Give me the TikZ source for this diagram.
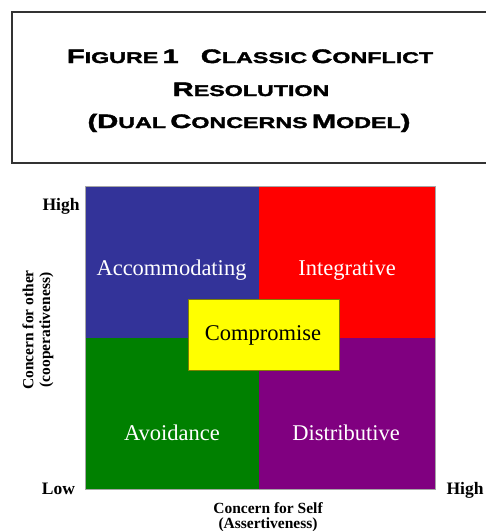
\documentclass[tikz,border=0pt]{standalone}
\usepackage{fontspec}
\setmainfont{Liberation Serif}
\newfontfamily\titlefont[FakeStretch=1.5,FakeBold=2]{Liberation Sans}
\newcommand\tsc[2]{{\fontsize{19.5}{20}\selectfont #1}{\fontsize{15.5}{16}\selectfont #2}}
\definecolor{qblue}{RGB}{51,51,153}
\definecolor{qred}{RGB}{255,0,0}
\definecolor{qgreen}{RGB}{0,128,0}
\definecolor{qpurple}{RGB}{128,0,128}
\definecolor{qyellow}{RGB}{255,255,0}
\definecolor{qolive}{RGB}{128,128,0}
\tikzset{
  titleline/.style={inner sep=0pt, anchor=base, font=\titlefont\bfseries},
  quadlabel/.style={inner sep=0pt, anchor=base, text=white, font=\fontsize{22.5}{24}\selectfont},
  axislabel/.style={inner sep=0pt, anchor=base, font=\bfseries\fontsize{15.5}{17}\selectfont},
  endlabel/.style={inner sep=0pt, anchor=base, font=\bfseries\fontsize{17.5}{19}\selectfont},
  frameline/.style={draw=black!80, line width=1.3pt},
}
\begin{document}
\begin{tikzpicture}[x=1pt,y=-1pt]
\useasboundingbox (0,0) rectangle (486,531);
% title frame
\coordinate (tl) at (12,12);
\coordinate (tr) at (486,12);
\coordinate (bl) at (12,163);
\coordinate (br) at (486,163);
\draw[frameline] (tr) -- (tl) -- (bl) -- (br);
\node[titleline] (t1) at (250,63) {\tsc{F}{IGURE} \tsc{1}{}\hspace{22pt}\tsc{C}{LASSIC} \tsc{C}{ONFLICT}};
\node[titleline] (t2) at (251,96) {\tsc{R}{ESOLUTION}};
\node[titleline] (t3) at (249,128) {\tsc{(D}{UAL} \tsc{C}{ONCERNS} \tsc{M}{ODEL}\tsc{)}{}};
% quadrants
\fill[qblue] (85,186) rectangle (258.5,338);
\fill[qred] (258.5,186) rectangle (435,338);
\fill[qgreen] (85,338) rectangle (258.5,489);
\fill[qpurple] (258.5,338) rectangle (435,489);
\draw[gray!70, line width=1pt] (85,186) rectangle (435,489);
\node[quadlabel] (acc) at (171.5,275) {Accommodating};
\node[quadlabel] (int) at (347,275) {Integrative};
\node[quadlabel] (avo) at (172,440) {Avoidance};
\node[quadlabel] (dis) at (346,440) {Distributive};
% compromise
\node[draw=qolive, fill=qyellow, line width=1pt, minimum width=151pt, minimum height=71pt, inner sep=0pt] (comp) at (263.5,334.5) {};
\node[inner sep=0pt, anchor=base, font=\fontsize{22.5}{24}\selectfont] (comptext) at (263,340) {Compromise};
% axis labels
\node[endlabel] (hiy) at (61,210.5) {High};
\node[endlabel] (loy) at (58.5,494) {Low};
\node[endlabel] (hix) at (465,494) {High};
\node[axislabel] (cs) at (268,513) {Concern for Self};
\node[axislabel] (as) at (268,528) {(Assertiveness)};
\node[axislabel, rotate=90] (co) at (33.5,330) {Concern for other};
\node[axislabel, rotate=90] (cp) at (50,330) {(cooperativeness)};
\end{tikzpicture}
\end{document}
